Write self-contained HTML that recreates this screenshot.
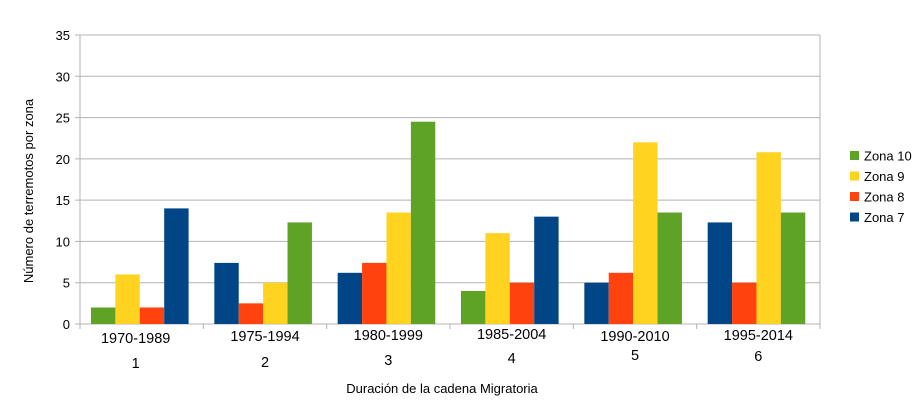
<!DOCTYPE html>
<html><head><meta charset="utf-8"><style>
body{margin:0;background:#fff;}
svg{display:block;font-family:"Liberation Sans",sans-serif;}
</style></head><body>
<svg id="chart" width="924" height="412" viewBox="0 0 924 412"></svg>
<script>
const categories=["1970-1989","1975-1994","1980-1999","1985-2004","1990-2010","1995-2014"];
const catNumbers=["1","2","3","4","5","6"];
const seriesNames=["Zona 10","Zona 9","Zona 8","Zona 7"];
const zona10=[2,12.3,24.5,4,13.5,13.5];
const zona9=[6,5,13.5,11,22,20.8];
const zona8=[2,2.5,7.4,5,6.2,5];
const zona7=[14,7.4,6.2,13,5,12.3];
const barOrder=[[0,1,2,3],[3,2,1,0],[3,2,1,0],[0,1,2,3],[3,2,1,0],[3,2,1,0]];
const yTicks=[0,5,10,15,20,25,30,35];
const labelY=[343,341,340,339,341,340];
const numberY=[368,367,365,363,360,361];
const colors=["#5ea226","#ffd320","#ff420e","#004586"];
const series=[zona10,zona9,zona8,zona7];
const svg=document.getElementById('chart');
const NS="http://www.w3.org/2000/svg";
const X0=80,X1=820,Y0=324,Y1=35,YMAX=35;
const gw=(X1-X0)/categories.length;
const y=v=>Y0-(v/YMAX)*(Y0-Y1);
function mk(t,a,txt){const e=document.createElementNS(NS,t);for(const k in a)e.setAttribute(k,a[k]);if(txt!==undefined)e.textContent=txt;svg.appendChild(e);return e;}
yTicks.forEach(t=>{
 const g=mk('line',{x1:X0-5,x2:X1,y1:y(t),y2:y(t),stroke:'#b3b3b3','stroke-width':1});
 
 
 const l=mk('text',{x:70,y:y(t)+5,'text-anchor':'end','font-size':13,fill:'#000'},t);
 
 
});
const ax=mk('line',{x1:X0,x2:X0,y1:Y1,y2:Y0+5,stroke:'#b3b3b3'});


const ar=mk('line',{x1:X1,x2:X1,y1:Y1,y2:Y0,stroke:'#b3b3b3'});


for(let i=0;i<=categories.length;i++){
 const t=mk('line',{x1:X0+i*gw,x2:X0+i*gw,y1:Y0,y2:Y0+5,stroke:'#b3b3b3'});
 
 
}
const bw=24.4,off=11;
categories.forEach((c,i)=>{
 barOrder[i].forEach((s,j)=>{
  const v=series[s][i];
  const r=mk('rect',{x:X0+i*gw+off+j*bw,y:y(v),width:bw,height:Y0-y(v),fill:colors[s]});
  
  
 });
 const cx=X0+i*gw+gw/2+(i===0?-6:0);
 const l=mk('text',{x:cx,y:labelY[i],'text-anchor':'middle','font-size':14.5,fill:'#000'},c);
 
 
 const n=mk('text',{x:cx,y:numberY[i],'text-anchor':'middle','font-size':14.5,fill:'#000'},catNumbers[i]);
 
 
});
const xt=mk('text',{x:442,y:393,'text-anchor':'middle','font-size':13,fill:'#000'},'Duración de la cadena Migratoria');


const yt=mk('text',{x:0,y:0,'text-anchor':'middle','font-size':13,fill:'#000',transform:'translate(33,191) rotate(-90)'},'Número de terremotos por zona');


seriesNames.forEach((s,i)=>{
 const yy=156+i*20.5;
 const r=mk('rect',{x:850,y:yy-5,width:9,height:9,fill:colors[i]});
 
 
 const t=mk('text',{x:864,y:yy+4.5,'font-size':13,fill:'#000'},s);
 
 
});
</script>
</body></html>
